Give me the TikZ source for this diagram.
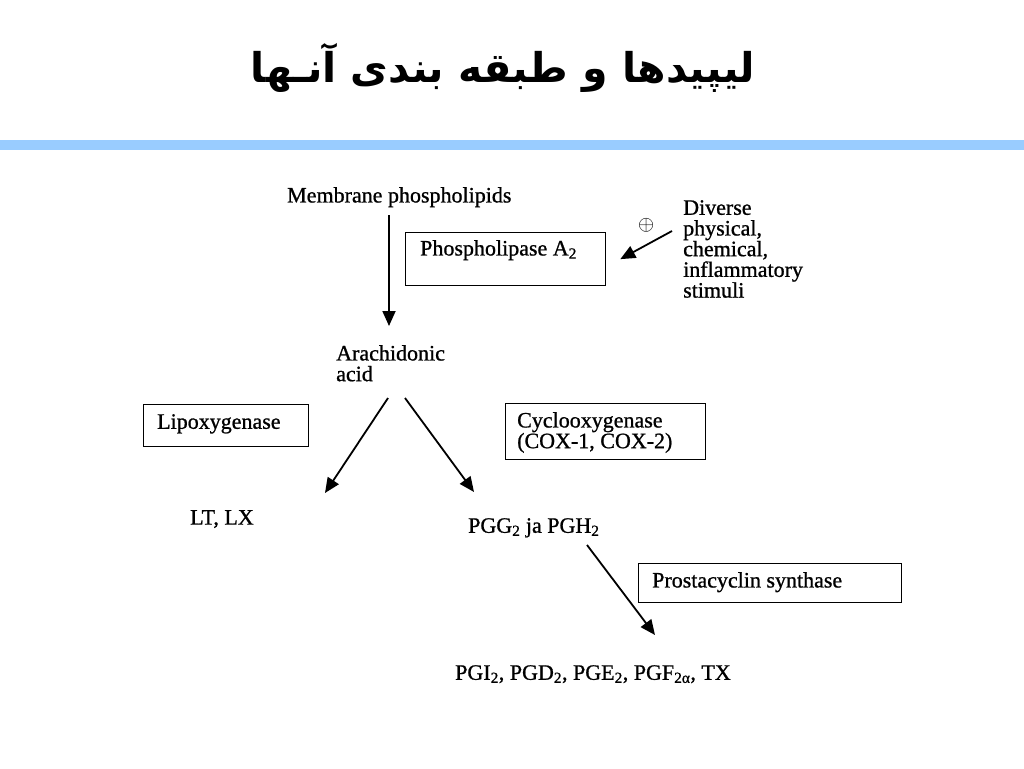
\documentclass[tikz,border=0pt]{standalone}
\usepackage{fontspec}
\setmainfont{Liberation Serif}[FakeBold=0.9]
\newfontfamily\arabicfont[Script=Arabic]{DejaVu Sans}
\TeXXeTstate=1
\usetikzlibrary{arrows.meta,calc}
\definecolor{barblue}{HTML}{99CCFF}
\tikzset{
  txt/.style={anchor=north west, inner sep=0pt, align=left, font=\fontsize{22}{20.7}\selectfont},
  box/.style={draw=black, line width=1.3pt, anchor=north west, inner sep=0pt},
  arr/.style={-{Triangle[length=15pt,width=13pt]}, line width=1.8pt},
}
\begin{document}
\begin{tikzpicture}[x=1pt,y=-1pt]
\useasboundingbox (0,0) rectangle (1024,768);
\fill[white] (0,0) rectangle (1024,768);
% title
\node[inner sep=0pt, font=\fontsize{41}{46}\selectfont\arabicfont\bfseries] (title) at (503,68) {\beginR لیپیدها و طبقه بندی آنـها\endR};
\fill[barblue] (0,140) rectangle (1024,149.5);
% boxes
\node[box, minimum width=200pt, minimum height=53pt] (pla) at (405,232) {};
\node[box, minimum width=165pt, minimum height=42pt] (lox) at (143,404) {};
\node[box, minimum width=200pt, minimum height=56pt] (cox) at (505,403) {};
\node[box, minimum width=263pt, minimum height=39pt] (pcs) at (638,563) {};
% texts
\node[txt] (mem) at (287,187) {Membrane phospholipids};
\node[txt] (plat) at (420,240) {Phospholipase A\textsubscript{2}};
\node[txt] (plus) at (638,218) {$\oplus$};
\node[txt] (stim) at (683,200) {Diverse\\physical,\\chemical,\\inflammatory\\stimuli};
\node[txt] (ara) at (336,345) {Arachidonic\\acid};
\node[txt] (loxt) at (157,414) {Lipoxygenase};
\node[txt] (coxt) at (517,412) {Cyclooxygenase\\(COX-1, COX-2)};
\node[txt] (ltlx) at (190,510) {LT, LX};
\node[txt] (pgg) at (468,518) {PGG\textsubscript{2} ja PGH\textsubscript{2}};
\node[txt] (pcst) at (652,572) {Prostacyclin synthase};
\node[txt] (pgi) at (455,665) {PGI\textsubscript{2}, PGD\textsubscript{2}, PGE\textsubscript{2}, PGF\textsubscript{2α}, TX};
% connectors
\draw[arr] ($(mem.north west)+(102,28)$) -- ($(ara.north west)+(53,-19)$);
\draw[arr] ($(stim.north west)+(-11,31)$) -- ($(pla.east)+(14,0)$);
\draw[arr] ($(ara.north west)+(52,53)$) -- ($(ltlx.north west)+(135,-17)$);
\draw[arr] ($(ara.north west)+(69,53)$) -- ($(pgg.north west)+(6,-26)$);
\draw[arr] ($(pgg.north west)+(119,27)$) -- ($(pgi.north west)+(200,-30)$);
\end{tikzpicture}
\end{document}
